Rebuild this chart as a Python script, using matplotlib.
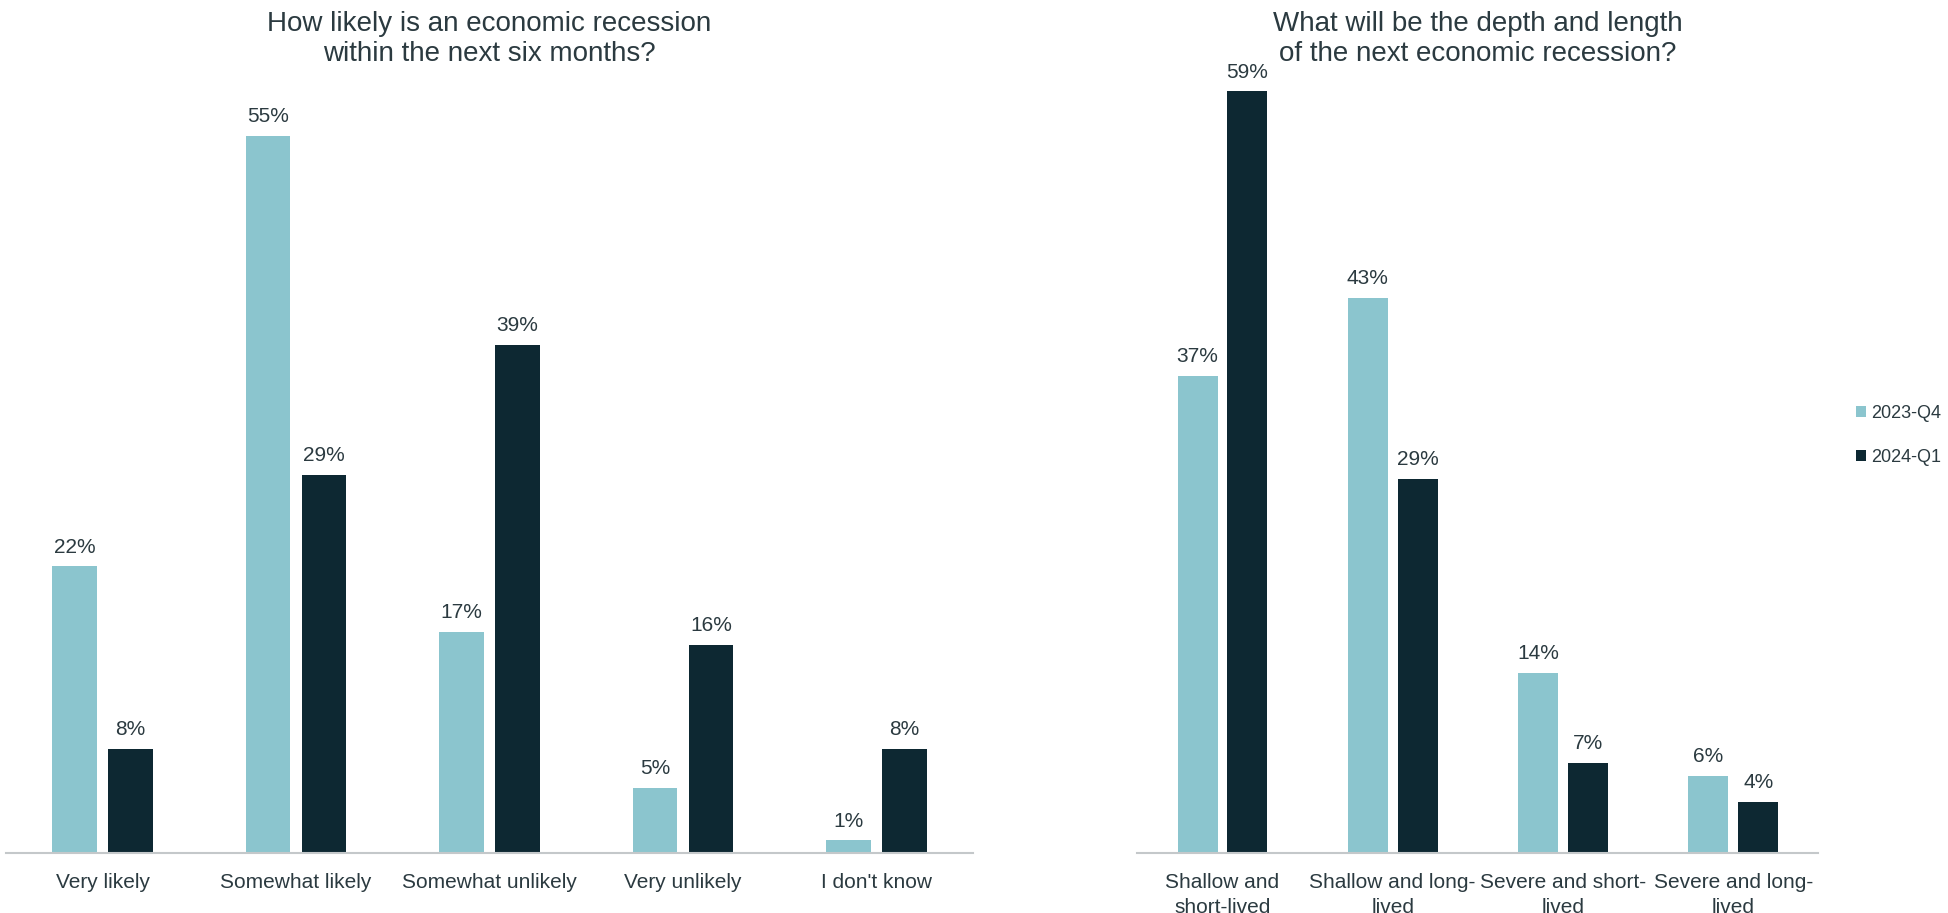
import matplotlib.pyplot as plt
import numpy as np

plt.rcParams['font.family'] = ['Liberation Sans', 'DejaVu Sans']

# data
likely_cats = ["Very likely", "Somewhat likely", "Somewhat unlikely", "Very unlikely", "I don't know"]
likely_q4 = [22, 55, 17, 5, 1]
likely_q1 = [8, 29, 39, 16, 8]

depth_cats = ["Shallow and\nshort-lived", "Shallow and long-\nlived", "Severe and short-\nlived", "Severe and long-\nlived"]
depth_q4 = [37, 43, 14, 6]
depth_q1 = [59, 29, 7, 4]

series_names = ["2023-Q4", "2024-Q1"]
light = "#8BC5CE"
dark = "#0D2832"
text_col = "#2B3A40"

fig = plt.figure(figsize=(19.49, 9.13), dpi=100)
ax1 = fig.add_axes([0.003, 0.0653, 0.4963, 0.853])
ax2 = fig.add_axes([0.5835, 0.0653, 0.3495, 0.853])


def draw(ax, cats, q4, q1, width, off, top, title):
    x = np.arange(len(cats))
    b1 = ax.bar(x - off, q4, width, color=light, label=series_names[0])
    b2 = ax.bar(x + off, q1, width, color=dark, label=series_names[1])
    for bars in (b1, b2):
        for b in bars:
            ax.annotate(f"{int(b.get_height())}%", (b.get_x() + b.get_width() / 2, b.get_height()),
                        xytext=(0, 7), textcoords="offset points", ha="center", va="bottom",
                        fontsize=15, color=text_col)
    ax.set_xlim(-0.5, len(cats) - 0.5)
    ax.set_ylim(0, top)
    ax.set_xticks(x)
    ax.set_xticklabels(cats, fontsize=15, color=text_col, linespacing=1.4)
    ax.tick_params(axis="x", length=0, pad=14)
    ax.set_yticks([])
    for s in ["top", "right", "left"]:
        ax.spines[s].set_visible(False)
    ax.spines["bottom"].set_color("#C4C8CA")
    ax.spines["bottom"].set_linewidth(1.5)
    ax.set_title(title, fontsize=20, color=text_col, pad=10, linespacing=1.2)
    return b1, b2


draw(ax1, likely_cats, likely_q4, likely_q1, 0.23, 0.145, 59.7,
     "How likely is an economic recession\nwithin the next six months?")
h = draw(ax2, depth_cats, depth_q4, depth_q1, 0.235, 0.146, 60.3,
         "What will be the depth and length\nof the next economic recession?")

fig.legend(h, series_names, loc="center left", bbox_to_anchor=(0.944, 0.523), frameon=False,
           fontsize=13, handlelength=0.55, handleheight=0.55, handletextpad=0.3,
           labelspacing=1.5, labelcolor=text_col)

fig.savefig("out.png", dpi=100)
